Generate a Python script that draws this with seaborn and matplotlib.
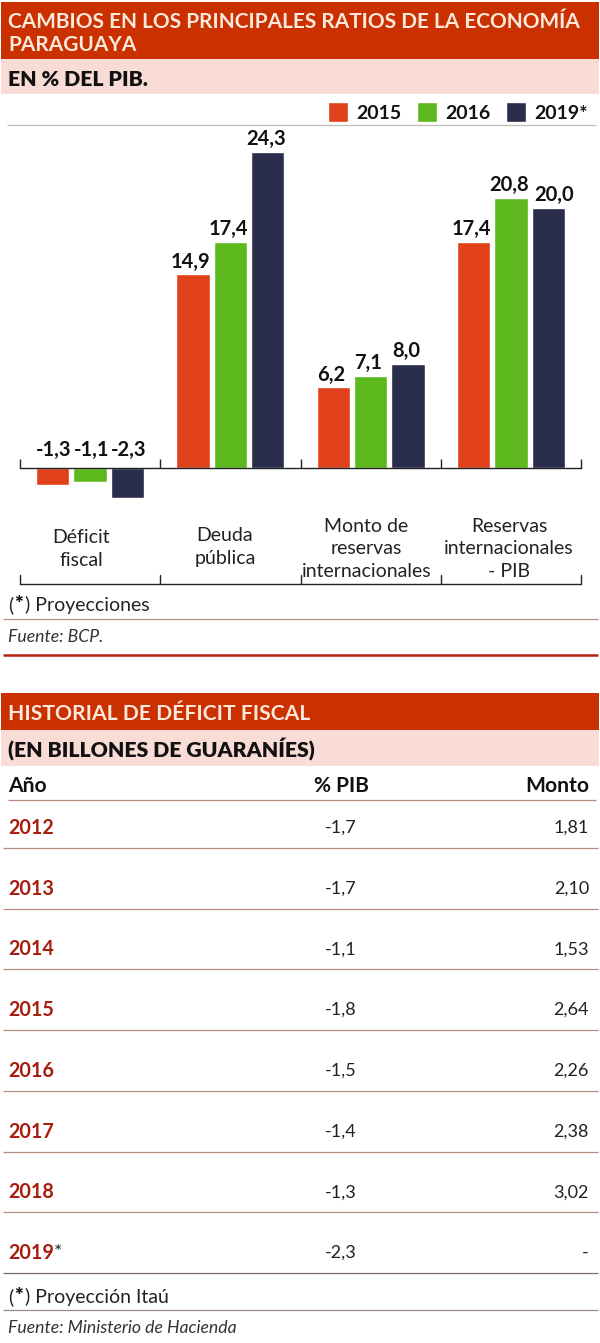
import matplotlib
matplotlib.use('Agg')
import matplotlib.pyplot as plt
import pandas as pd
import seaborn as sns
from matplotlib.patches import Rectangle

# datos del grafico
categorias = ['Déficit\nfiscal', 'Deuda\npública', 'Monto de\nreservas\ninternacionales',
              'Reservas\ninternacionales\n- PIB']
valores_2015 = [-1.3, 14.9, 6.2, 17.4]
valores_2016 = [-1.1, 17.4, 7.1, 20.8]
valores_2019 = [-2.3, 24.3, 8.0, 20.0]
series = ['2015', '2016', '2019*']

# datos de la tabla
anios = ['2012', '2013', '2014', '2015', '2016', '2017', '2018', '2019']
pct_pib = ['-1,7', '-1,7', '-1,1', '-1,8', '-1,5', '-1,4', '-1,3', '-2,3']
montos = ['1,81', '2,10', '1,53', '2,64', '2,26', '2,38', '3,02', '-']

ROJO = '#CB3000'
ROSA = '#F9DCD6'
OSCURO = '#A81C0E'
LINEA = '#B98A84'
CREMA = '#FBE9DC'
COLORES = ['#E0401A', '#5DB81E', '#2A2D4C']
W, H = 600, 1343

sns.set_theme(style='white')
plt.rcParams['font.family'] = ['Lato', 'DejaVu Sans']

fig = plt.figure(figsize=(W / 100, H / 100), dpi=100, facecolor='white')

# capa de fondo en pixeles
bg = fig.add_axes([0, 0, 1, 1])
bg.set_xlim(0, W)
bg.set_ylim(H, 0)
bg.axis('off')


def banda(y0, y1, color):
  bg.add_patch(Rectangle((1, y0), 598, y1 - y0, color=color, lw=0))


def linea(y, x0=3, x1=598, color=LINEA, lw=0.9):
  bg.plot([x0, x1], [y, y], color=color, lw=lw, solid_capstyle='butt')


banda(2, 59, ROJO)
banda(59, 94, ROSA)
banda(693, 730, ROJO)
banda(730, 766, ROSA)

bg.text(8, 21.5, 'CAMBIOS EN LOS PRINCIPALES RATIOS DE LA ECONOMÍA', color=CREMA,
        fontsize=15, fontweight='bold', va='center')
bg.text(8, 45, 'PARAGUAYA', color=CREMA, fontsize=15, fontweight='bold', va='center')
bg.text(8, 79, 'EN % DEL PIB.', color='#111111', fontsize=15.3, fontweight='heavy', va='center')
bg.text(8, 714, 'HISTORIAL DE DÉFICIT FISCAL', color=CREMA, fontsize=15.2,
        fontweight='bold', va='center')
bg.text(8, 749, '(EN BILLONES DE GUARANÍES)', color='#111111', fontsize=15.3,
        fontweight='heavy', va='center')

linea(125, 7, 596, color='#BDBDBD')

# barras
df = pd.DataFrame({
    'categoria': categorias * 3,
    'valor': valores_2015 + valores_2016 + valores_2019,
    'serie': [s for s in series for _ in categorias],
})

y_cero, px_unidad = 468, 13.0
top, bottom = 130, 510
ax = fig.add_axes([20 / W, 1 - bottom / H, 561 / W, (bottom - top) / H])
ax.patch.set_alpha(0)
sns.barplot(data=df, x='categoria', y='valor', hue='serie', palette=COLORES,
            width=0.8, gap=0.11, errorbar=None, ax=ax, saturation=1)
ax.set_xlim(-0.5, 3.5)
ax.set_ylim((y_cero - bottom) / px_unidad, (y_cero - top) / px_unidad)
ax.set_xlabel('')
ax.set_ylabel('')
ax.set_yticks([])
ax.set_xticks([-0.5, 0.5, 1.5, 2.5, 3.5])
ax.set_xticklabels([])
for lado in ['top', 'left', 'right']:
  ax.spines[lado].set_visible(False)
ax.spines['bottom'].set_position(('data', 0))
ax.spines['bottom'].set_color('#222222')
ax.spines['bottom'].set_linewidth(1)
ax.spines['bottom'].set_zorder(5)
ax.tick_params(axis='x', direction='in', length=6.5, width=1, color='#222222', bottom=True)

for s, cont in enumerate(ax.containers[:3]):
  for g, barra in enumerate(cont):
    alto = barra.get_height()
    dx = 1 if alto < 0 else -1.5
    # el 20,0 va corrido a la derecha para no pisar al 20,8
    if (g, s) == (3, 2):
      dx = 4
    ax.annotate(f'{alto:.1f}'.replace('.', ','),
                (barra.get_x() + barra.get_width() / 2, max(alto, 0)),
                xytext=(dx, 2 if alto > 0 else 6), textcoords='offset points',
                ha='center', va='bottom', fontsize=14.5, fontweight='bold', color='#111111')

handles, etiquetas = ax.get_legend_handles_labels()
ax.get_legend().remove()
fig.legend(handles, etiquetas, ncol=3, frameon=False, loc='center right',
           bbox_to_anchor=(597 / W, 1 - 112 / H), handlelength=1.05,
           handleheight=1.25, handletextpad=0.4, columnspacing=0.8, borderpad=0,
           labelcolor='#111111', prop={'weight': 'bold', 'size': 14})

# etiquetas de grupo y corchete inferior
centros_x = [81, 225, 366.5, 509]
centros_y = [549, 547, 549, 549]
for cat, cx, cy in zip(categorias, centros_x, centros_y):
  bg.text(cx, cy, cat, ha='center', va='center', fontsize=14, color='#222222',
          linespacing=1.36, zorder=3)

bg.plot([20, 581], [584, 584], color='#222222', lw=1)
for xt in [20, 160, 300.5, 440.5, 581]:
  bg.plot([xt, xt], [575, 584], color='#222222', lw=1)


def nota(y, texto):
  bg.text(8, y, '(', fontsize=14, color='#222222', va='center')
  bg.text(14, y, '*', fontsize=15, color='#111111', va='center', fontweight='heavy')
  bg.text(25, y, ') ' + texto, fontsize=14, color='#222222', va='center')


nota(605, 'Proyecciones')
linea(619)
bg.text(8, 637, 'Fuente: BCP.', fontsize=12.7, style='italic', color='#333333', va='center')
linea(655, color='#B5200F', lw=1.8)

# tabla
X_PIB, X_MONTO = 341, 589
bg.text(8, 786, 'Año', fontsize=15.2, fontweight='bold', color='#111111', va='center')
bg.text(X_PIB, 786, '% PIB', fontsize=15, fontweight='bold', color='#111111', va='center', ha='center')
bg.text(X_MONTO, 786, 'Monto', fontsize=15.2, fontweight='bold', color='#111111', va='center', ha='right')
linea(799.5, 8, 596)

fila_y0, paso = 828, 60.7
for i, (anio, pct, monto) in enumerate(zip(anios, pct_pib, montos)):
  y = fila_y0 + i * paso
  bg.text(8, y, anio, fontsize=14.2, fontweight='bold', color=OSCURO, va='center')
  if anio == '2019':
    bg.text(54, y, '*', fontsize=14, color='#222222', va='center')
  bg.text(X_PIB, y, pct, fontsize=13, color='#222222', va='center', ha='center')
  bg.text(X_MONTO, y, monto, fontsize=13, color='#222222', va='center', ha='right')
  linea(y + 20, 3, 598, color='#7A6A68' if i == len(anios) - 1 else LINEA)

nota(1297, 'Proyección Itaú')
linea(1310, color='#9A8A88')
bg.text(8, 1328, 'Fuente: Ministerio de Hacienda', fontsize=12.7, style='italic', color='#333333',
        va='center')

fig.savefig('out.png', dpi=100)
